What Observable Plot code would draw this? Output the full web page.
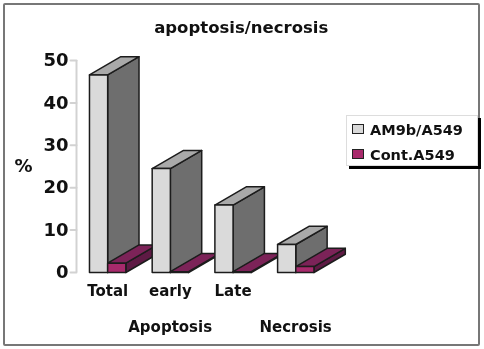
<!DOCTYPE html>
<html>
<head>
<meta charset="utf-8">
<script src="https://cdn.jsdelivr.net/npm/d3@7"></script>
<script src="https://cdn.jsdelivr.net/npm/@observablehq/plot@0.6"></script>
<style>
  html, body { margin: 0; padding: 0; background: #fff; }
  #wrap { position: relative; width: 484px; height: 349px; overflow: hidden; font-family: "DejaVu Sans", sans-serif; }
  #wrap svg { display: block; position: absolute; left: 0; top: 0; filter: blur(0.4px); }
  #border { position: absolute; left: 3px; top: 3px; width: 473px; height: 339px; border: 2px solid #777; border-radius: 2px; pointer-events: none; }
  #legend { position: absolute; left: 346px; top: 115px; width: 130px; height: 49px; background: #fff; border: 1px solid #ddd; box-shadow: 3px 3px 0 #000; font-weight: 700; font-size: 14.5px; color: #111; filter: blur(0.3px); }
  #legend div { position: absolute; left: 23px; white-space: nowrap; line-height: 16px; }
  #legend i { position: absolute; left: -18px; top: 2px; width: 10px; height: 8px; border: 1.5px solid #222; }
</style>
</head>
<body>
<div id="wrap">
  <div id="border"></div>
  <div id="legend">
    <div style="top:6px"><i style="background:#d9d9d9"></i>AM9b/A549</div>
    <div style="top:31px"><i style="background:#a82a6c"></i>Cont.A549</div>
  </div>
</div>
<script>
const categories = ["Total", "early", "Late", ""];
const groups = ["Apoptosis", "Necrosis"];
const groupAt = [1, 3];
const am9b = [46.6, 24.5, 15.9, 6.6];
const cont = [2.2, 0.2, 0.2, 1.4];
const yTicks = [0, 10, 20, 30, 40, 50];

// 3D look, in scale units
const barW = 0.29, depthX = 0.5, depthY = 4.3;

const palette = {
  gray: {front: "url(#dots)", side: "#6e6e6e", top: "#a9a9a9"},
  purple: {front: "#a82a6c", side: "#5e1a44", top: "#7c2358"}
};
const edge = "#1c1c1c";

function face(points, fill) {
  return Plot.line(points, {x: d => d[0], y: d => d[1], fill, stroke: edge, strokeWidth: 1.5, strokeLinejoin: "round"});
}
function bar3d(x0, v, colors) {
  const x1 = x0 + barW;
  return [
    face([[x1, 0], [x1 + depthX, depthY], [x1 + depthX, v + depthY], [x1, v], [x1, 0]], colors.side),
    face([[x0, v], [x1, v], [x1 + depthX, v + depthY], [x0 + depthX, v + depthY], [x0, v]], colors.top),
    face([[x0, 0], [x1, 0], [x1, v], [x0, v], [x0, 0]], colors.front)
  ];
}

const bars = categories.flatMap((c, i) => [
  ...bar3d(i, am9b[i], palette.gray),
  ...bar3d(i + barW, cont[i], palette.purple)
]);

const axisX = -0.207;
const chart = Plot.plot({
  width: 484,
  height: 349,
  marginLeft: 76, marginRight: 81, marginTop: 60, marginBottom: 77,
  style: {fontFamily: "'DejaVu Sans', sans-serif", background: "transparent", overflow: "visible"},
  x: {domain: [axisX, 5], range: [76, 402.5], axis: null},
  y: {domain: [0, 50], range: [272, 60], axis: null},
  marks: [
    Plot.ruleX([axisX], {y1: 0, y2: 50, stroke: "#d2d2d2", strokeWidth: 2}),
    ...yTicks.map(t => Plot.line([[axisX - 0.095, t], [axisX, t]], {x: d => d[0], y: d => d[1], stroke: "#d2d2d2", strokeWidth: 2})),
    Plot.text(yTicks, {x: () => axisX, y: d => d, text: d => String(d), dx: -8, textAnchor: "end", fontSize: 18, fontWeight: 700, fill: "#111"}),
    ...bars,
    Plot.text(categories, {x: (d, i) => i + barW, y: () => 0, text: d => d, dy: 19, fontSize: 15, fontWeight: 700, fill: "#111"}),
    Plot.text(groups, {x: (d, i) => groupAt[i], y: () => 0, text: d => d, dx: 18, dy: 55, fontSize: 15, fontWeight: 700, fill: "#111"}),
    Plot.text(["apoptosis/necrosis"], {x: () => 2.42, y: () => 50, text: d => d, dy: -33, fontSize: 16.5, fontWeight: 700, fill: "#111"}),
    Plot.text(["%"], {x: () => -1.05, y: () => 25, text: d => d, fontSize: 18, fontWeight: 700, fill: "#111"})
  ]
});

// dotted front-face texture
const defs = document.createElementNS("http://www.w3.org/2000/svg", "defs");
defs.innerHTML = '<pattern id="dots" width="2" height="2" patternUnits="userSpaceOnUse"><rect width="2" height="2" fill="#e6e6e6"/><rect width="1" height="1" fill="#b5b5b5"/></pattern>';
chart.insertBefore(defs, chart.firstChild);
document.getElementById("wrap").prepend(chart);
</script>
</body>
</html>
